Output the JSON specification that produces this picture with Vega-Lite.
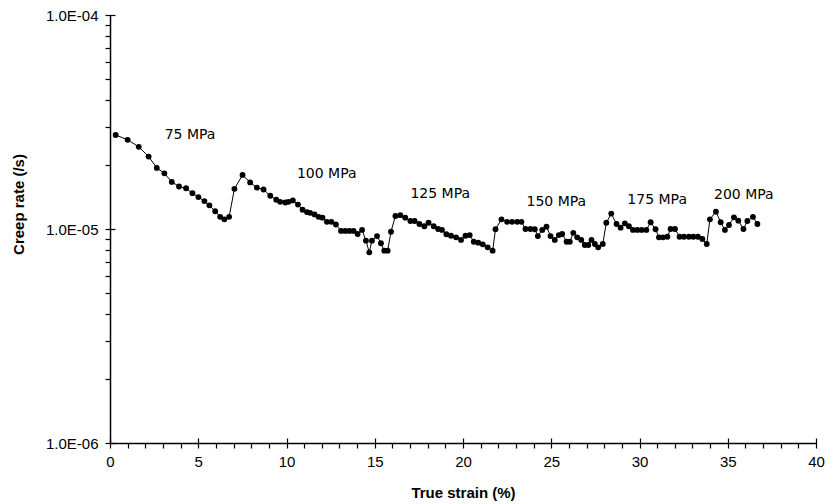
{
  "$schema": "https://vega.github.io/schema/vega-lite/v6.json",
  "width": 706,
  "height": 428,
  "autosize": "none",
  "padding": {"left": 110, "top": 15, "right": 22, "bottom": 61},
  "background": "white",
  "config": {
    "view": {"stroke": null},
    "axis": {
      "domainColor": "black",
      "domainWidth": 1.5,
      "tickColor": "black",
      "tickWidth": 1.2,
      "labelFont": "Liberation Sans",
      "labelFontSize": 15,
      "labelColor": "black",
      "titleFont": "Liberation Sans",
      "titleFontSize": 15,
      "titleFontWeight": "bold",
      "titleColor": "black",
      "grid": false
    }
  },
  "resolve": {"axis": {"x": "independent", "y": "independent"}},
  "datasets": {
    "series": [
      {"strain": 0.32, "rate": 2.75e-5}, {"strain": 1.00, "rate": 2.61e-5}, {"strain": 1.63, "rate": 2.42e-5},
      {"strain": 2.19, "rate": 2.18e-5}, {"strain": 2.65, "rate": 1.93e-5}, {"strain": 3.08, "rate": 1.82e-5},
      {"strain": 3.50, "rate": 1.66e-5}, {"strain": 3.91, "rate": 1.58e-5}, {"strain": 4.31, "rate": 1.55e-5},
      {"strain": 4.67, "rate": 1.47e-5}, {"strain": 5.01, "rate": 1.41e-5}, {"strain": 5.35, "rate": 1.35e-5},
      {"strain": 5.63, "rate": 1.29e-5}, {"strain": 5.96, "rate": 1.21e-5}, {"strain": 6.24, "rate": 1.14e-5},
      {"strain": 6.48, "rate": 1.11e-5}, {"strain": 6.75, "rate": 1.14e-5}, {"strain": 7.05, "rate": 1.54e-5},
      {"strain": 7.51, "rate": 1.79e-5}, {"strain": 7.94, "rate": 1.65e-5}, {"strain": 8.32, "rate": 1.56e-5},
      {"strain": 8.70, "rate": 1.53e-5}, {"strain": 9.08, "rate": 1.43e-5}, {"strain": 9.42, "rate": 1.37e-5},
      {"strain": 9.64, "rate": 1.34e-5}, {"strain": 9.93, "rate": 1.33e-5}, {"strain": 10.11, "rate": 1.34e-5},
      {"strain": 10.36, "rate": 1.36e-5}, {"strain": 10.65, "rate": 1.30e-5}, {"strain": 10.91, "rate": 1.23e-5},
      {"strain": 11.16, "rate": 1.20e-5}, {"strain": 11.34, "rate": 1.19e-5}, {"strain": 11.59, "rate": 1.17e-5},
      {"strain": 11.82, "rate": 1.14e-5}, {"strain": 12.04, "rate": 1.13e-5}, {"strain": 12.29, "rate": 1.08e-5},
      {"strain": 12.54, "rate": 1.08e-5}, {"strain": 12.80, "rate": 1.05e-5}, {"strain": 13.09, "rate": 9.8e-6},
      {"strain": 13.33, "rate": 9.8e-6}, {"strain": 13.57, "rate": 9.8e-6}, {"strain": 13.80, "rate": 9.8e-6},
      {"strain": 14.03, "rate": 9.48e-6}, {"strain": 14.28, "rate": 9.9e-6}, {"strain": 14.50, "rate": 8.82e-6},
      {"strain": 14.69, "rate": 7.78e-6}, {"strain": 14.84, "rate": 8.82e-6}, {"strain": 15.13, "rate": 9.27e-6},
      {"strain": 15.35, "rate": 8.58e-6}, {"strain": 15.54, "rate": 7.92e-6}, {"strain": 15.73, "rate": 7.92e-6},
      {"strain": 15.92, "rate": 9.71e-6}, {"strain": 16.17, "rate": 1.15e-5}, {"strain": 16.45, "rate": 1.16e-5},
      {"strain": 16.73, "rate": 1.13e-5}, {"strain": 17.02, "rate": 1.09e-5}, {"strain": 17.26, "rate": 1.09e-5},
      {"strain": 17.53, "rate": 1.055e-5}, {"strain": 17.81, "rate": 1.03e-5}, {"strain": 18.05, "rate": 1.07e-5},
      {"strain": 18.34, "rate": 1.03e-5}, {"strain": 18.59, "rate": 1.0e-5}, {"strain": 18.81, "rate": 9.9e-6},
      {"strain": 19.06, "rate": 9.45e-6}, {"strain": 19.32, "rate": 9.3e-6}, {"strain": 19.61, "rate": 9.14e-6},
      {"strain": 19.89, "rate": 8.89e-6}, {"strain": 20.14, "rate": 9.3e-6}, {"strain": 20.38, "rate": 9.37e-6},
      {"strain": 20.61, "rate": 8.72e-6}, {"strain": 20.86, "rate": 8.63e-6}, {"strain": 21.12, "rate": 8.48e-6},
      {"strain": 21.40, "rate": 8.21e-6}, {"strain": 21.68, "rate": 7.92e-6}, {"strain": 21.84, "rate": 9.97e-6},
      {"strain": 22.18, "rate": 1.11e-5}, {"strain": 22.50, "rate": 1.08e-5}, {"strain": 22.78, "rate": 1.08e-5},
      {"strain": 23.07, "rate": 1.08e-5}, {"strain": 23.31, "rate": 1.08e-5}, {"strain": 23.54, "rate": 1.0e-5},
      {"strain": 23.82, "rate": 1.0e-5}, {"strain": 24.07, "rate": 9.97e-6}, {"strain": 24.24, "rate": 9.27e-6},
      {"strain": 24.49, "rate": 9.9e-6}, {"strain": 24.73, "rate": 1.025e-5}, {"strain": 24.96, "rate": 9.27e-6},
      {"strain": 25.20, "rate": 8.89e-6}, {"strain": 25.43, "rate": 9.37e-6}, {"strain": 25.62, "rate": 9.48e-6},
      {"strain": 25.87, "rate": 8.72e-6}, {"strain": 26.05, "rate": 8.72e-6}, {"strain": 26.25, "rate": 9.6e-6},
      {"strain": 26.47, "rate": 9.14e-6}, {"strain": 26.70, "rate": 8.89e-6}, {"strain": 26.90, "rate": 8.42e-6},
      {"strain": 27.10, "rate": 8.42e-6}, {"strain": 27.28, "rate": 8.89e-6}, {"strain": 27.47, "rate": 8.51e-6},
      {"strain": 27.66, "rate": 8.21e-6}, {"strain": 27.92, "rate": 8.51e-6}, {"strain": 28.12, "rate": 1.07e-5},
      {"strain": 28.40, "rate": 1.18e-5}, {"strain": 28.70, "rate": 1.055e-5}, {"strain": 28.93, "rate": 1.014e-5},
      {"strain": 29.17, "rate": 1.063e-5}, {"strain": 29.40, "rate": 1.03e-5}, {"strain": 29.63, "rate": 9.9e-6},
      {"strain": 29.88, "rate": 9.9e-6}, {"strain": 30.12, "rate": 9.9e-6}, {"strain": 30.39, "rate": 9.9e-6},
      {"strain": 30.63, "rate": 1.075e-5}, {"strain": 30.91, "rate": 9.97e-6}, {"strain": 31.10, "rate": 9.14e-6},
      {"strain": 31.33, "rate": 9.14e-6}, {"strain": 31.58, "rate": 9.2e-6}, {"strain": 31.76, "rate": 1.0e-5},
      {"strain": 32.01, "rate": 1.0e-5}, {"strain": 32.27, "rate": 9.2e-6}, {"strain": 32.52, "rate": 9.2e-6},
      {"strain": 32.80, "rate": 9.2e-6}, {"strain": 33.05, "rate": 9.2e-6}, {"strain": 33.31, "rate": 9.2e-6},
      {"strain": 33.56, "rate": 8.98e-6}, {"strain": 33.81, "rate": 8.51e-6}, {"strain": 33.99, "rate": 1.11e-5},
      {"strain": 34.33, "rate": 1.205e-5}, {"strain": 34.60, "rate": 1.075e-5}, {"strain": 34.84, "rate": 9.9e-6},
      {"strain": 35.07, "rate": 1.044e-5}, {"strain": 35.35, "rate": 1.134e-5}, {"strain": 35.60, "rate": 1.094e-5},
      {"strain": 35.89, "rate": 1.0e-5}, {"strain": 36.11, "rate": 1.09e-5}, {"strain": 36.43, "rate": 1.14e-5},
      {"strain": 36.68, "rate": 1.055e-5}
    ],
    "labels": [
      {"strain": 3.1, "rate": 2.75e-5, "label": "75 MPa"},
      {"strain": 10.59, "rate": 1.81e-5, "label": "100 MPa"},
      {"strain": 17.02, "rate": 1.45e-5, "label": "125 MPa"},
      {"strain": 23.6, "rate": 1.34e-5, "label": "150 MPa"},
      {"strain": 29.31, "rate": 1.37e-5, "label": "175 MPa"},
      {"strain": 34.22, "rate": 1.44e-5, "label": "200 MPa"}
    ]
  },
  "layer": [
    {
      "data": {"name": "series"},
      "mark": {"type": "line", "color": "black", "strokeWidth": 1},
      "encoding": {
        "x": {
          "field": "strain", "type": "quantitative",
          "scale": {"domain": [0, 40], "nice": false, "zero": false},
          "axis": {
            "orient": "bottom",
            "title": null,
            "labels": false,
            "values": [1,2,3,4,6,7,8,9,11,12,13,14,16,17,18,19,21,22,23,24,26,27,28,29,31,32,33,34,36,37,38,39],
            "tickSize": 5
          }
        },
        "y": {
          "field": "rate", "type": "quantitative",
          "scale": {"type": "log", "domain": [1e-6, 1e-4], "nice": false},
          "axis": {
            "orient": "left",
            "title": null,
            "labels": false,
            "values": [2e-6,3e-6,4e-6,5e-6,6e-6,7e-6,8e-6,9e-6,2e-5,3e-5,4e-5,5e-5,6e-5,7e-5,8e-5,9e-5],
            "tickSize": 5
          }
        }
      }
    },
    {
      "data": {"name": "series"},
      "mark": {"type": "circle", "color": "black", "opacity": 1, "size": 34},
      "encoding": {
        "x": {
          "field": "strain", "type": "quantitative",
          "axis": {
            "orient": "bottom",
            "title": "True strain (%)",
            "values": [0, 5, 10, 15, 20, 25, 30, 35, 40],
            "domain": false,
            "offset": -5,
            "tickSize": 10,
            "labelPadding": 6,
            "labelFlush": false,
            "labelOverlap": false,
            "titleY": 54,
            "titleBaseline": "middle"
          }
        },
        "y": {
          "field": "rate", "type": "quantitative",
          "axis": {
            "orient": "left",
            "title": "Creep rate (/s)",
            "values": [1e-6, 1e-5, 1e-4],
            "labelExpr": "'1.0E-0' + abs(round(log(datum.value)/LN10))",
            "domain": false,
            "offset": -5,
            "tickSize": 10,
            "labelPadding": 7,
            "labelFlush": false,
            "labelOverlap": false,
            "titleX": -97,
            "titleY": 189,
            "titleBaseline": "middle"
          }
        }
      }
    },
    {
      "data": {"name": "labels"},
      "mark": {"type": "text", "align": "left", "baseline": "middle", "font": "DejaVu Sans", "fontSize": 14, "color": "black"},
      "encoding": {
        "x": {"field": "strain", "type": "quantitative", "axis": null},
        "y": {"field": "rate", "type": "quantitative", "axis": null},
        "text": {"field": "label"}
      }
    }
  ]
}
